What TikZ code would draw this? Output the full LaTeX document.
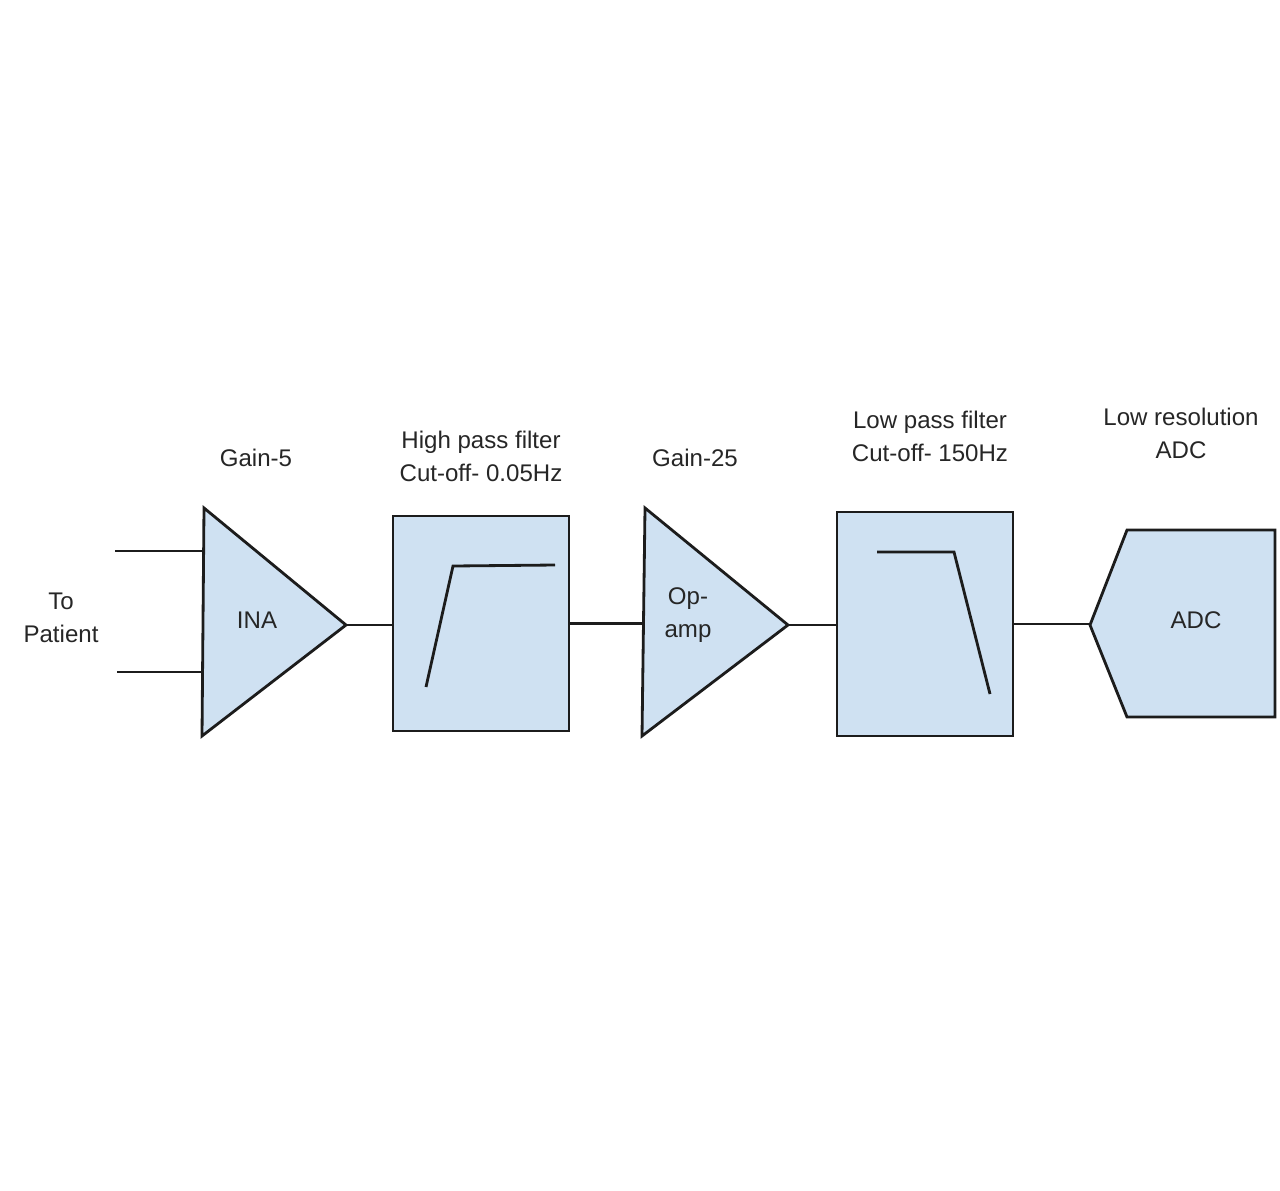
\documentclass[tikz,border=0pt]{standalone}
\usepackage{fontspec}
\setmainfont{Liberation Sans}

\definecolor{blockfill}{RGB}{207,225,242}
\definecolor{wire}{RGB}{28,28,28}

\begin{document}
\begin{tikzpicture}[x=0.02cm, y=-0.02cm, line width=1.6pt,
	every node/.style={font=\fontsize{13.7}{18.8}\selectfont, text=black!85, align=center},
	blk/.style={draw=wire, fill=blockfill, line join=miter},
	filterbox/.style={blk, rectangle, inner sep=0pt, outer sep=0pt, minimum width=3.52cm},
	wireline/.style={draw=wire}]
	\useasboundingbox (0,0) rectangle (1280,1190);
	% instrumentation amplifier
	\coordinate (inatop) at (204,508);
	\coordinate (inabot) at (202,736);
	\coordinate (inaout) at (346,625);
	\filldraw[blk] (inatop) -- (inaout) -- (inabot) -- cycle;
	\node (ina) at (257,620) {INA};
	\node (gaina) at (256,458) {Gain-5};
	\coordinate (inp1) at (115,551);
	\coordinate (inp2) at (117,672);
	\draw[wireline] (inp1) -- (inp1 -| inatop);
	\draw[wireline] (inp2) -- (inp2 -| inabot);
	\node (patient) at (61,618) {To\\Patient};
	% high pass filter
	\node[filterbox, minimum height=4.3cm] (hpf) at (481,623.5) {};
	\draw[wireline] (426,687) -- (453,566) -- (555,565);
	\node (hpflbl) at (481,456) {High pass filter\\Cut-off- 0.05Hz};
	\draw[wireline] (inaout) -- (inaout -| hpf.west);
	% op-amp
	\coordinate (optop) at (645,508);
	\coordinate (opbot) at (642,736);
	\coordinate (opout) at (788,625);
	\filldraw[blk] (optop) -- (opout) -- (opbot) -- cycle;
	\node (opamp) at (688,615) {Op-\\amp};
	\node (gainb) at (695,458) {Gain-25};
	\draw[wireline] (hpf.east) -- (hpf.east -| opbot);
	% low pass filter
	\node[filterbox, minimum height=4.48cm] (lpf) at (925,624) {};
	\draw[wireline] (877,552) -- (954,552) -- (990,694);
	\node (lpflbl) at (930,436) {Low pass filter\\Cut-off- 150Hz};
	\draw[wireline] (opout) -- (opout -| lpf.west);
	% converter
	\coordinate (adcin) at (1090,625);
	\filldraw[blk] (adcin) -- (1127,530) -- (1275,530) -- (1275,717) -- (1127,717) -- cycle;
	\node (adc) at (1196,620) {ADC};
	\node (adclbl) at (1181,433) {Low resolution\\ADC};
	\draw[wireline] (lpf.east) -- (lpf.east -| adcin);
\end{tikzpicture}
\end{document}
